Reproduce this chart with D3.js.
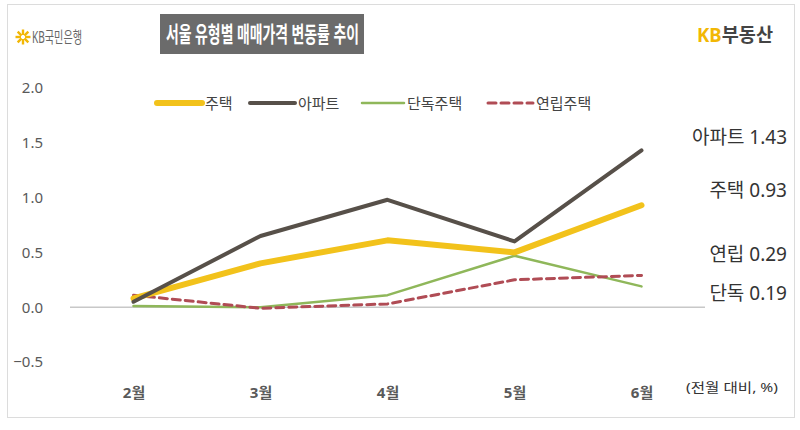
<!DOCTYPE html>
<html><head><meta charset="utf-8">
<script src="https://cdn.jsdelivr.net/npm/d3@7"></script>
<style>body{margin:0;background:#fff;} svg text{font-family:"Noto Sans","Noto Sans CJK KR",sans-serif;}</style>
</head><body>
<svg id="c" width="800" height="430"></svg>
<script>
const months = ["2월","3월","4월","5월","6월"];
const house = [0.08, 0.40, 0.61, 0.50, 0.93];
const apt = [0.05, 0.65, 0.98, 0.60, 1.43];
const detached = [0.01, 0.00, 0.11, 0.47, 0.19];
const rowhouse = [0.11, -0.01, 0.03, 0.25, 0.29];
const yTicks = [-0.5, 0.0, 0.5, 1.0, 1.5, 2.0];
const seriesNames = ["주택","아파트","단독주택","연립주택"];
const endLabels = ["아파트 1.43","주택 0.93","연립 0.29","단독 0.19"];

const svg = d3.select("#c");
svg.append("rect").attr("x",7.5).attr("y",4.5).attr("width",787).attr("height",413)
  .attr("fill","#fff").attr("stroke","#dcdcdc").attr("stroke-width",1);

// header
svg.append("rect").attr("x",160).attr("y",14).attr("width",204).attr("height",40).attr("fill","#6b6b6b");
svg.append("text").attr("x",166).attr("y",42).attr("fill","#fff")
  .attr("font-size",22).attr("font-weight","bold")
  .attr("textLength",193).attr("lengthAdjust","spacingAndGlyphs")
  .text("서울 유형별 매매가격 변동률 추이");
const star = svg.append("g").attr("transform","translate(23,37)");
for(let i=0;i<8;i++){star.append("line").attr("x1",0).attr("y1",-2).attr("x2",0).attr("y2",-7.5)
  .attr("stroke","#f2b705").attr("stroke-width",2.4).attr("transform",`rotate(${i*45})`);}
svg.append("text").attr("x",32).attr("y",43).attr("fill","#666").attr("font-size",16)
  .attr("textLength",50).attr("lengthAdjust","spacingAndGlyphs").text("KB국민은행");
const kb = svg.append("text").attr("x",697).attr("y",42).attr("font-size",19).attr("font-weight","bold")
  .attr("textLength",76).attr("lengthAdjust","spacingAndGlyphs");
kb.append("tspan").attr("fill","#f2b705").text("KB");
kb.append("tspan").attr("fill","#444").text("부동산");

const x = d3.scalePoint().domain(months).range([133.5,641.5]);
const y = d3.scaleLinear().domain([-0.5,2.0]).range([362,88]);

const yAxis = svg.append("g").attr("transform","translate(46,0)")
  .call(d3.axisLeft(y).tickValues(yTicks).tickFormat(d3.format(".1f")).tickSize(0));
yAxis.select(".domain").remove();
yAxis.selectAll("text").attr("font-size",15).attr("fill","#595959").attr("font-family","Noto Sans, sans-serif");

svg.append("line").attr("x1",70).attr("x2",705).attr("y1",y(0)).attr("y2",y(0))
  .attr("stroke","#c8c8c8").attr("stroke-width",1.5);

const xAxis = svg.append("g").attr("transform","translate(0,384)")
  .call(d3.axisBottom(x).tickSize(0));
xAxis.select(".domain").remove();
xAxis.selectAll("text").attr("font-size",15).attr("font-weight","bold").attr("fill","#595959")
  .attr("font-family","'Noto Sans','Noto Sans CJK KR', sans-serif");
svg.append("text").attr("x",732).attr("y",392).attr("text-anchor","middle").attr("font-size",13)
  .attr("fill","#333").attr("textLength",92).attr("lengthAdjust","spacingAndGlyphs").text("(전월 대비, %)");

const styles = [
  {data:house, color:"#f2c21b", w:6, dash:null},
  {data:apt, color:"#575049", w:4, dash:null},
  {data:detached, color:"#8fb75a", w:2.5, dash:null},
  {data:rowhouse, color:"#b04c55", w:3, dash:"8,5"}
];
const line = d3.line().x((d,i)=>x(months[i])).y(d=>y(d));
[2,3,0,1].forEach(k=>{
  const s = styles[k];
  svg.append("path").datum(s.data).attr("d",line).attr("fill","none")
    .attr("stroke",s.color).attr("stroke-width",s.w).attr("stroke-linecap","round")
    .attr("stroke-linejoin","round").attr("stroke-dasharray",s.dash);
});

const legPos = [[157,205],[250,298],[362,407],[488,536]];
seriesNames.forEach((n,i)=>{
  const s = styles[i];
  svg.append("line").attr("x1",legPos[i][0]).attr("x2",legPos[i][1]-3).attr("y1",103).attr("y2",103)
    .attr("stroke",s.color).attr("stroke-width",s.w).attr("stroke-linecap","round").attr("stroke-dasharray",s.dash);
  svg.append("text").attr("x",legPos[i][1]).attr("y",109).attr("font-size",15).attr("fill","#444").text(n);
});

const endY = [144,197,261,300];
endLabels.forEach((t,i)=>{
  svg.append("text").attr("x",787).attr("y",endY[i]).attr("text-anchor","end")
    .attr("font-size",19).attr("fill","#333").text(t);
});
</script>
</body></html>
